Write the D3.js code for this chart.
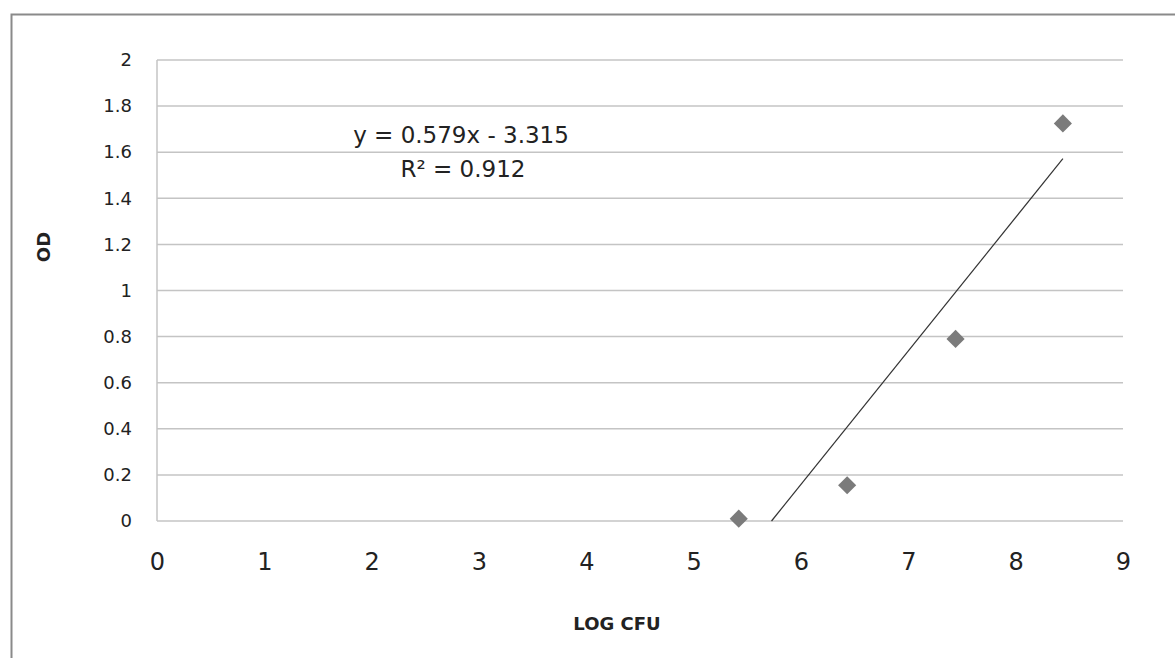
<!DOCTYPE html>
<html><head><meta charset="utf-8">
<script src="https://cdn.jsdelivr.net/npm/d3@7"></script>
<style>body{margin:0;background:#fff;}svg{display:block;}</style>
</head><body>
<svg id="c" width="1175" height="658"></svg>
<script>
const logCFU = [5.42, 6.43, 7.44, 8.44];
const od = [0.01, 0.155, 0.79, 1.725];
const xTicks = [0,1,2,3,4,5,6,7,8,9];
const yTicks = [0,0.2,0.4,0.6,0.8,1,1.2,1.4,1.6,1.8,2];
const slope = 0.579, intercept = -3.315;
const eqLines = ["y = 0.579x - 3.315", "R² = 0.912"];
const xTitle = "LOG CFU", yTitle = "OD";

const svg = d3.select("#c");
const font = "'DejaVu Sans', sans-serif";
// outer frame
svg.append("path").attr("d","M11.5,658 V14.5 H1175").attr("fill","none").attr("stroke","#8a8a8a").attr("stroke-width",2);

const x = d3.scaleLinear().domain([0,9]).range([157,1123]);
const y = d3.scaleLinear().domain([0,2]).range([521,60]);

// gridlines
svg.append("g").selectAll("line").data(yTicks).join("line")
  .attr("x1",x(0)).attr("x2",x(9)).attr("y1",d=>y(d)).attr("y2",d=>y(d))
  .attr("stroke","#c4c4c4").attr("stroke-width",1.5);
// y axis line
svg.append("line").attr("x1",x(0)).attr("x2",x(0)).attr("y1",y(0)).attr("y2",y(2)).attr("stroke","#c4c4c4").attr("stroke-width",1.5);

// y ticks labels
const ya = svg.append("g").attr("transform",`translate(${x(0)},0)`)
  .call(d3.axisLeft(y).tickValues(yTicks).tickSize(0).tickPadding(25).tickFormat(d=>d3.format("")(d)));
ya.select(".domain").remove();
ya.selectAll("text").attr("font-family",font).attr("font-size",18).attr("fill","#222");

const xa = svg.append("g").attr("transform",`translate(0,${y(0)})`)
  .call(d3.axisBottom(x).tickValues(xTicks).tickSize(0).tickPadding(32).tickFormat(d3.format("d")));
xa.select(".domain").remove();
xa.selectAll("text").attr("font-family",font).attr("font-size",24).attr("fill","#222");

// axis titles
svg.append("text").attr("transform","translate(50,247) rotate(-90)").attr("text-anchor","middle")
  .attr("font-family",font).attr("font-weight","bold").attr("font-size",18).attr("fill","#222").text(yTitle);
svg.append("text").attr("x",617).attr("y",630).attr("text-anchor","middle")
  .attr("font-family",font).attr("font-weight","bold").attr("font-size",18).attr("fill","#222").text(xTitle);

// trendline clipped at y=0
const xmin = Math.max(d3.min(logCFU), -intercept/slope), xmax = d3.max(logCFU);
svg.append("line").attr("x1",x(xmin)).attr("y1",y(slope*xmin+intercept))
  .attr("x2",x(xmax)).attr("y2",y(slope*xmax+intercept)).attr("stroke","#333").attr("stroke-width",1.2);

// points
svg.append("g").selectAll("path").data(logCFU).join("path")
  .attr("d", d3.symbol(d3.symbolDiamond2, 210))
  .attr("transform",(d,i)=>`translate(${x(d)},${y(od[i])})`)
  .attr("fill","#7b7b7b");

// equation
svg.append("text").attr("x",461).attr("y",143).attr("text-anchor","middle")
  .attr("font-family",font).attr("font-size",23).attr("fill","#222").text(eqLines[0]);
svg.append("text").attr("x",463).attr("y",177).attr("text-anchor","middle")
  .attr("font-family",font).attr("font-size",23).attr("fill","#222").text(eqLines[1]);
</script>
</body></html>
